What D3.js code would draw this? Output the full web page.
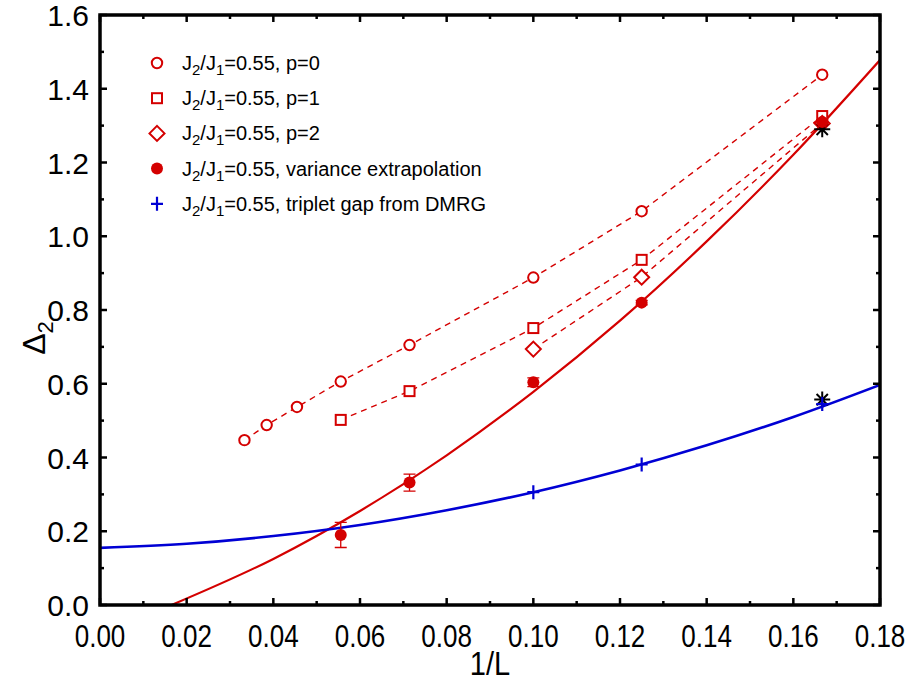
<!DOCTYPE html>
<html>
<head>
<meta charset="utf-8">
<script src="https://cdn.jsdelivr.net/npm/d3@7"></script>
<style>
  body { margin: 0; background: #fff; }
  text { font-family: "Liberation Sans", Arial, sans-serif; }
</style>
</head>
<body>
<svg id="chart" width="915" height="684"></svg>
<script>
// system sizes L, plotted as 1/L
var sizesP0 = [30, 26, 22, 18, 14, 10, 8, 6];
var gapP0 = [0.447, 0.488, 0.537, 0.606, 0.705, 0.888, 1.068, 1.438];
var sizesP1 = [18, 14, 10, 8, 6];
var gapP1 = [0.502, 0.580, 0.751, 0.936, 1.326];
var sizesP2 = [10, 8, 6];
var gapP2 = [0.694, 0.889, 1.306];
var sizesVar = [18, 14, 10, 8, 6];
var gapVar = [0.190, 0.332, 0.604, 0.820, 1.310];
var errVar = [0.034, 0.023, 0.012, 0.006, 0.006];
var sizesDmrg = [10, 8, 6];
var gapDmrg = [0.306, 0.381, 0.545];
var starSizes = [6, 6];
var starGap = [1.290, 0.557];

// fitted curves
var redFitX = [0.0165, 0.04, 0.06, 0.08, 0.10, 0.12, 0.14, 0.16, 0.18];
var redFitY = [0.0, 0.125, 0.255, 0.406, 0.578, 0.771, 0.986, 1.221, 1.478];
var blueFitX = [0.0, 0.02, 0.04, 0.06, 0.08, 0.10, 0.12, 0.14, 0.16, 0.18];
var blueFitY = [0.155, 0.166, 0.187, 0.217, 0.257, 0.306, 0.365, 0.433, 0.510, 0.597];

var xTicks = [0, 0.02, 0.04, 0.06, 0.08, 0.10, 0.12, 0.14, 0.16, 0.18];
var yTicks = [0, 0.2, 0.4, 0.6, 0.8, 1.0, 1.2, 1.4, 1.6];
var legendLabels = ["p=0", "p=1", "p=2", "variance extrapolation", "triplet gap from DMRG"];

var RED = "#d40000", BLUE = "#0000d4";

var svg = d3.select("#chart");
var pLeft = 100, pRight = 880, pTop = 15, pBottom = 605;
var x = d3.scaleLinear().domain([0, 0.18]).range([pLeft, pRight]);
var y = d3.scaleLinear().domain([0, 1.6]).range([pBottom, pTop]);

function pts(sizes, vals) {
  return sizes.map(function(L, i) { return {x: 1 / L, y: vals[i]}; });
}

svg.append("clipPath").attr("id", "plotclip")
  .append("rect").attr("x", pLeft).attr("y", pTop).attr("width", pRight - pLeft).attr("height", pBottom - pTop);

var plot = svg.append("g").attr("clip-path", "url(#plotclip)");

var line = d3.line().x(function(d) { return x(d.x); }).y(function(d) { return y(d.y); });
var smooth = d3.line().curve(d3.curveMonotoneX).x(function(d) { return x(d.x); }).y(function(d) { return y(d.y); });

// dashed connecting lines
[[sizesP0, gapP0], [sizesP1, gapP1], [sizesP2, gapP2]].forEach(function(s) {
  plot.append("path").datum(pts(s[0], s[1]))
    .attr("d", line).attr("fill", "none").attr("stroke", RED)
    .attr("stroke-width", 1.4).attr("stroke-dasharray", "6,5");
});

// fit curves
plot.append("path").datum(redFitX.map(function(v, i) { return {x: v, y: redFitY[i]}; }))
  .attr("d", smooth).attr("fill", "none").attr("stroke", RED).attr("stroke-width", 2.2);
plot.append("path").datum(blueFitX.map(function(v, i) { return {x: v, y: blueFitY[i]}; }))
  .attr("d", smooth).attr("fill", "none").attr("stroke", BLUE).attr("stroke-width", 2.6);

// markers
function circleOpen(g, cx, cy) {
  g.append("circle").attr("cx", cx).attr("cy", cy).attr("r", 5.2)
    .attr("fill", "#fff").attr("stroke", RED).attr("stroke-width", 2);
}
function squareOpen(g, cx, cy) {
  g.append("rect").attr("x", cx - 5).attr("y", cy - 5).attr("width", 10).attr("height", 10)
    .attr("fill", "#fff").attr("stroke", RED).attr("stroke-width", 2);
}
function diamondOpen(g, cx, cy) {
  g.append("path").attr("d", "M" + cx + "," + (cy - 7.5) + "L" + (cx + 7.5) + "," + cy + "L" + cx + "," + (cy + 7.5) + "L" + (cx - 7.5) + "," + cy + "Z")
    .attr("fill", "#fff").attr("stroke", RED).attr("stroke-width", 2);
}
function circleFilled(g, cx, cy) {
  g.append("circle").attr("cx", cx).attr("cy", cy).attr("r", 6).attr("fill", RED);
}
function plus(g, cx, cy) {
  g.append("path").attr("d", "M" + (cx - 6) + "," + cy + "H" + (cx + 6) + "M" + cx + "," + (cy - 7) + "V" + (cy + 7))
    .attr("stroke", BLUE).attr("stroke-width", 2.2);
}
function star(g, cx, cy) {
  var r = 8, p = "";
  [0, 45, 90, 135].forEach(function(a) {
    var dx = r * Math.cos(a * Math.PI / 180), dy = r * Math.sin(a * Math.PI / 180);
    p += "M" + (cx - dx) + "," + (cy - dy) + "L" + (cx + dx) + "," + (cy + dy);
  });
  g.append("path").attr("d", p).attr("stroke", "#000").attr("stroke-width", 2);
}

var mk = svg.append("g");
pts(sizesP0, gapP0).forEach(function(d) { circleOpen(mk, x(d.x), y(d.y)); });
pts(sizesP1, gapP1).forEach(function(d) { squareOpen(mk, x(d.x), y(d.y)); });
pts(sizesP2, gapP2).forEach(function(d) { diamondOpen(mk, x(d.x), y(d.y)); });
pts(starSizes, starGap).forEach(function(d) { star(mk, x(d.x), y(d.y)); });
pts(sizesVar, gapVar).forEach(function(d, i) {
  var cx = x(d.x), y0 = y(d.y - errVar[i]), y1 = y(d.y + errVar[i]);
  mk.append("path").attr("d", "M" + cx + "," + y0 + "V" + y1 + "M" + (cx - 6) + "," + y0 + "H" + (cx + 6) + "M" + (cx - 6) + "," + y1 + "H" + (cx + 6))
    .attr("stroke", RED).attr("stroke-width", 1.3).attr("fill", "none");
  circleFilled(mk, cx, y(d.y));
});
pts(sizesDmrg, gapDmrg).forEach(function(d) { plus(mk, x(d.x), y(d.y)); });

// axes: ticks inward on all four sides
var ax = svg.append("g");
var xMinor = d3.range(0, 0.1801, 0.01);
var yMinor = d3.range(0, 1.601, 0.1);
xMinor.forEach(function(v, i) {
  var len = i % 2 === 0 ? 7 : 4;
  ax.append("line").attr("x1", x(v)).attr("x2", x(v)).attr("y1", pBottom).attr("y2", pBottom - len).attr("stroke", "#000").attr("stroke-width", 2.5);
  ax.append("line").attr("x1", x(v)).attr("x2", x(v)).attr("y1", pTop).attr("y2", pTop + len).attr("stroke", "#000").attr("stroke-width", 2.5);
});
yMinor.forEach(function(v, i) {
  var len = i % 2 === 0 ? 7 : 4;
  ax.append("line").attr("y1", y(v)).attr("y2", y(v)).attr("x1", pLeft).attr("x2", pLeft + len).attr("stroke", "#000").attr("stroke-width", 2.5);
  ax.append("line").attr("y1", y(v)).attr("y2", y(v)).attr("x1", pRight).attr("x2", pRight - len).attr("stroke", "#000").attr("stroke-width", 2.5);
});
ax.append("rect").attr("x", pLeft).attr("y", pTop).attr("width", pRight - pLeft).attr("height", pBottom - pTop)
  .attr("fill", "none").attr("stroke", "#000").attr("stroke-width", 3.5);

// x labels are tall and condensed in the original
xTicks.forEach(function(v) {
  ax.append("text").attr("transform", "translate(" + x(v) + ",647) scale(0.84,1)")
    .attr("text-anchor", "middle").attr("font-size", 31).text(d3.format(".2f")(v));
});
yTicks.forEach(function(v) {
  ax.append("text").attr("x", pLeft - 11).attr("y", y(v) + 11).attr("text-anchor", "end")
    .attr("font-size", 30).text(d3.format(".1f")(v));
});

svg.append("text").attr("transform", "translate(" + x(0.09) + ",675) scale(0.88,1)")
  .attr("text-anchor", "middle").attr("font-size", 33).text("1/L");
var yl = svg.append("text").attr("transform", "translate(45,338) rotate(-90)")
  .attr("text-anchor", "middle").attr("font-size", 32);
yl.append("tspan").text("\u0394");
yl.append("tspan").attr("font-size", 22).attr("dy", 8).text("2");

// legend
var lg = svg.append("g");
var legendMarks = [circleOpen, squareOpen, diamondOpen, circleFilled, plus];
legendLabels.forEach(function(lab, i) {
  var cy = 63 + i * 35.2;
  legendMarks[i](lg, 157, cy);
  var t = lg.append("text").attr("x", 182).attr("y", cy + 7).attr("font-size", 20);
  t.append("tspan").text("J");
  t.append("tspan").attr("font-size", 15).attr("dy", 5).text("2");
  t.append("tspan").attr("dy", -5).text("/J");
  t.append("tspan").attr("font-size", 15).attr("dy", 5).text("1");
  t.append("tspan").attr("dy", -5).text("=0.55, " + lab);
});
</script>
</body>
</html>
